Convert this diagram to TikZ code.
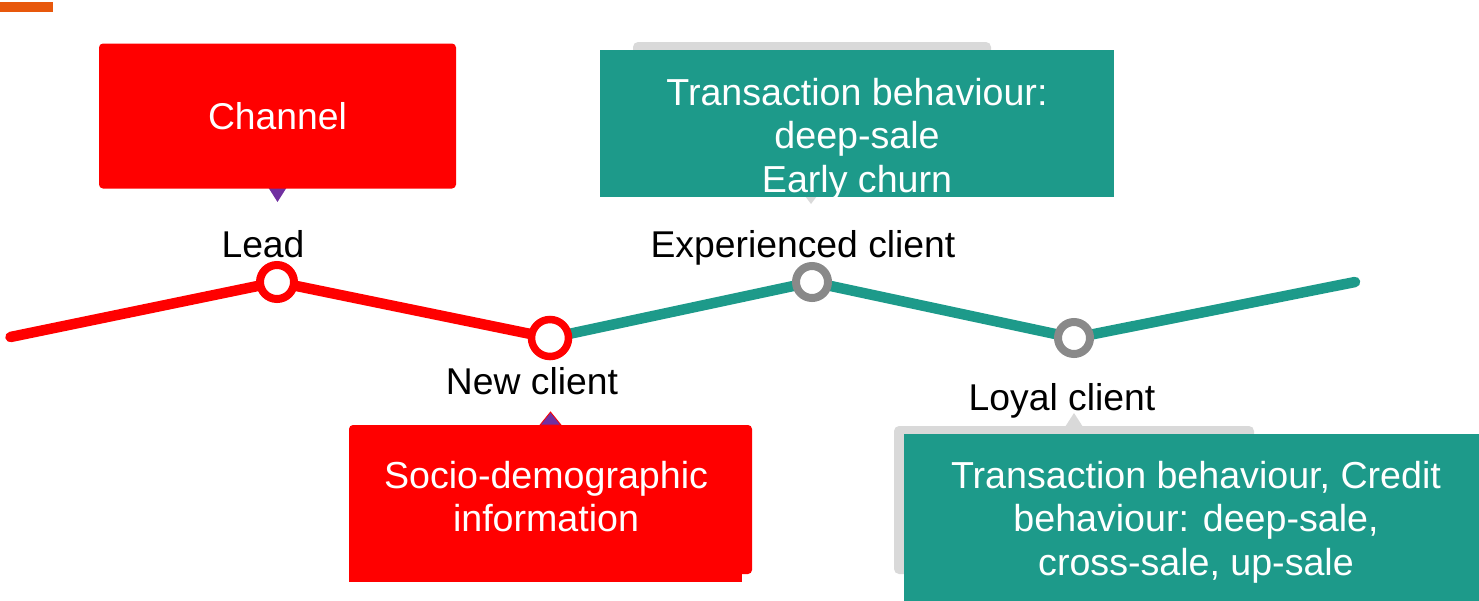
\documentclass[tikz,border=0pt]{standalone}
\usepackage{fontspec}
\setmainfont{Liberation Sans}
\usetikzlibrary{backgrounds}

\definecolor{brandred}{RGB}{255,0,0}
\definecolor{journeyteal}{RGB}{29,154,138}
\definecolor{pointerpurple}{RGB}{112,48,160}
\definecolor{ringgrey}{RGB}{137,137,137}
\definecolor{backgrey}{RGB}{217,217,217}
\definecolor{accentorange}{RGB}{232,88,12}

\tikzset{
  station/.style={circle, draw, fill=white, line width=8pt, inner sep=0pt, minimum size=34pt},
  track/.style={line width=10.5pt, line cap=round, line join=round},
  lbl/.style={font=\fontsize{37.3}{43.5}\selectfont, text=black, inner sep=0pt},
  boxtext/.style={font=\fontsize{37.6}{43.5}\selectfont, text=white, inner sep=0pt, align=center},
  panel/.style={inner sep=0pt, outer sep=0pt},
}

\begin{document}
\begin{tikzpicture}[x=1pt, y=-1pt]
  \useasboundingbox (0,0) rectangle (1479,600);

  % small accent bar in the corner
  \fill[accentorange] (0,2) rectangle (53,12);

  % stations along the journey line
  \node[station, draw=brandred] (lead) at (277,282) {};
  \node[station, draw=brandred, minimum size=37pt, line width=7.5pt] (newc) at (550,338) {};
  \node[station, draw=ringgrey, minimum size=32pt] (exp) at (812,282) {};
  \node[station, draw=ringgrey, minimum size=32pt] (loyal) at (1074,338) {};
  \coordinate (start) at (10.5,337);
  \coordinate (finish) at (1355,282);

  \begin{pgfonlayer}{background}
    \draw[track, brandred] (start) -- (lead.center) -- (newc.center);
    \draw[track, journeyteal] (newc.center) -- (exp.center) -- (loyal.center) -- (finish);
  \end{pgfonlayer}

  % station labels
  \node[lbl, anchor=base] (leadlbl) at (263,257) {Lead};
  \node[lbl, anchor=base] (newlbl) at (532,394) {New client};
  \node[lbl, anchor=base] (explbl) at (803,257) {Experienced client};
  \node[lbl, anchor=base] (loyallbl) at (1062,410) {Loyal client};

  % Lead: channel callout
  \fill[pointerpurple] (268,187) -- (287,187) -- (277.5,202) -- cycle;
  \node[panel, fill=brandred, rounded corners=4pt, minimum width=357pt, minimum height=145pt,
        text=white, font=\fontsize{37.3}{43.5}\selectfont] (channel) at (277.5,116) {Channel};

  % Experienced client callout
  \fill[backgrey, rounded corners=5pt] (633,42) rectangle (991,120);
  \fill[backgrey] (805,196) -- (817,196) -- (811,204) -- cycle;
  \node[panel, fill=journeyteal, minimum width=514pt, minimum height=147pt] (expbox) at (857,123.5) {};
  \node[boxtext] (exptext) at (857,139.2) {Transaction behaviour:\\deep-sale\\Early churn};

  % New client callout
  \fill[brandred] (349,440) rectangle (742,582);
  \node[panel, fill=brandred, rounded corners=4pt, minimum width=403pt, minimum height=149pt] (sociobox) at (550.5,499.5) {};
  \filldraw[fill=pointerpurple, draw=brandred, line width=0.8pt] (540,425) -- (561,425) -- (550.5,412) -- cycle;
  \node[boxtext] (sociotext) at (546,496.5) {Socio-demographic\\information};

  % Loyal client callout
  \fill[backgrey, rounded corners=5pt] (894,426) rectangle (1254,574);
  \fill[backgrey] (1065,427) -- (1083,427) -- (1074,413) -- cycle;
  \node[panel, fill=journeyteal, minimum width=575pt, minimum height=170pt, anchor=north west] (loyalbox) at (904,434) {};
  \node[boxtext] (loyaltext) at (1196,522) {Transaction behaviour, Credit\\behaviour: deep-sale,\\cross-sale, up-sale};
\end{tikzpicture}
\end{document}
